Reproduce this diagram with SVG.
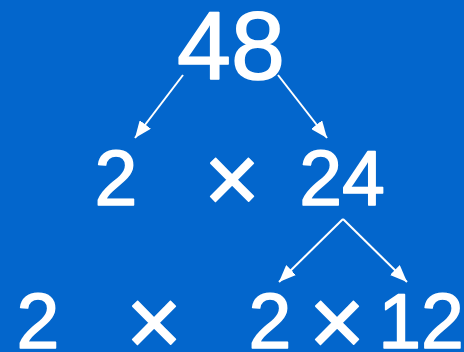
<svg xmlns="http://www.w3.org/2000/svg" width="464" height="352" viewBox="0 0 464 352">
  <style>
    .num { font-family: "Liberation Sans", Arial, sans-serif; fill: #ffffff; stroke: #ffffff; stroke-width: 1.5; stroke-linejoin: round; text-anchor: middle; }
    .top { font-size: 97px; }
    .mid { font-size: 77px; }
    .times { font-size: 96px; }
    .edge { stroke: #ffffff; stroke-width: 2; fill: none; marker-end: url(#head); }
  </style>
  <defs>
    <marker id="head" markerUnits="userSpaceOnUse" markerWidth="18" markerHeight="14" viewBox="0 0 18 14" refX="17" refY="7" orient="auto">
      <path d="M0,0 L17,7 L0,14 Z" fill="#ffffff"/>
    </marker>
  </defs>
  <rect width="464" height="352" fill="#0366CC"/>

  <g id="connectors">
    <path class="edge" d="M183,75 L135,138"/>
    <path class="edge" d="M278,75 L327,138"/>
    <path class="edge" d="M343,219 L279,282"/>
    <path class="edge" d="M343,219 L407,282"/>
  </g>

  <g id="n48"><text class="num top" x="231" y="79">48</text></g>

  <g id="row1">
    <g id="n2a"><text class="num mid" x="116" y="205">2</text></g>
    <g id="x1"><text class="num times" x="232" y="212">×</text></g>
    <g id="n24"><text class="num mid" x="342" y="205">24</text></g>
  </g>

  <g id="row2">
    <g id="n2b"><text class="num mid" x="38" y="348">2</text></g>
    <g id="x2"><text class="num times" x="154" y="355">×</text></g>
    <g id="n2c"><text class="num mid" x="270" y="348">2</text></g>
    <g id="x3"><text class="num times" x="337" y="355">×</text></g>
    <g id="n12"><text class="num mid" x="421" y="348">12</text></g>
  </g>
</svg>
